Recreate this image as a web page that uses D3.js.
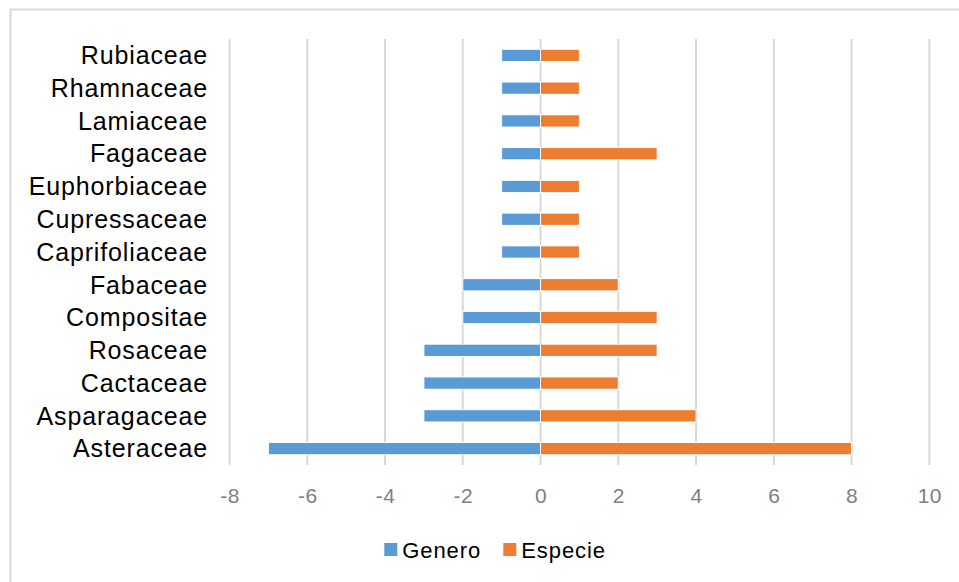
<!DOCTYPE html>
<html>
<head>
<meta charset="utf-8">
<script src="https://cdn.jsdelivr.net/npm/d3@7"></script>
<style>
  html, body { margin: 0; padding: 0; background: #fff; }
  svg { display: block; }
</style>
</head>
<body>
<svg id="chart" width="959" height="582"></svg>
<script>
// Families, listed top to bottom
const categories = [
  "Rubiaceae", "Rhamnaceae", "Lamiaceae", "Fagaceae", "Euphorbiaceae",
  "Cupressaceae", "Caprifoliaceae", "Fabaceae", "Compositae", "Rosaceae",
  "Cactaceae", "Asparagaceae", "Asteraceae"
];
// Genera are plotted to the left of zero, species to the right
const genero  = [-1, -1, -1, -1, -1, -1, -1, -2, -2, -3, -3, -3, -7];
const especie = [ 1,  1,  1,  3,  1,  1,  1,  2,  3,  3,  2,  4,  8];
const tickValues = [-8, -6, -4, -2, 0, 2, 4, 6, 8, 10];
const seriesNames = ["Genero", "Especie"];
const seriesColors = ["#5B9BD5", "#ED7D31"];

const svg = d3.select("#chart");
const font = "'Liberation Sans', Arial, sans-serif";

// outer frame (left and top edges visible)
svg.append("path")
  .attr("d", "M10.5,582 L10.5,9.5 L959,9.5")
  .attr("fill", "none")
  .attr("stroke", "#d9d9d9")
  .attr("stroke-width", 2);

const plot = { left: 229.5, right: 929.3, top: 39, bottom: 465 };

const x = d3.scaleLinear().domain([-8, 10]).range([plot.left, plot.right]);
const y = d3.scaleBand().domain(categories).range([plot.top, plot.bottom])
  .paddingInner(0.625).paddingOuter(0.3125);

// vertical gridlines
svg.append("g").selectAll("line")
  .data(tickValues)
  .join("line")
  .attr("x1", d => x(d)).attr("x2", d => x(d))
  .attr("y1", plot.top).attr("y2", plot.bottom)
  .attr("stroke", "#d9d9d9")
  .attr("stroke-width", 2);

// x-axis tick labels (plain hyphen for negatives)
const xAxis = d3.axisBottom(x).tickValues(tickValues)
  .tickFormat(d => String(d)).tickSize(0).tickPadding(0);
const gx = svg.append("g")
  .attr("transform", `translate(0,${plot.bottom + 23})`)
  .call(xAxis);
gx.select(".domain").remove();
gx.selectAll("text")
  .attr("font-family", font)
  .attr("font-size", 21)
  .attr("letter-spacing", "0.5px")
  .attr("fill", "#7f7f7f");

// category labels
const yAxis = d3.axisLeft(y).tickSize(0).tickPadding(0);
const gy = svg.append("g")
  .attr("transform", `translate(208,0)`)
  .call(yAxis);
gy.select(".domain").remove();
gy.selectAll("text")
  .attr("font-family", font)
  .attr("font-size", 25)
  .attr("letter-spacing", "0.85px")
  .attr("fill", "#000")
  .attr("dy", "0.35em");

// bars
const series = [genero, especie];
series.forEach((vals, si) => {
  svg.append("g").selectAll("rect")
    .data(vals.map((v, i) => ({ cat: categories[i], v })))
    .join("rect")
    .attr("x", d => x(Math.min(0, d.v)))
    .attr("width", d => Math.abs(x(d.v) - x(0)))
    .attr("y", d => y(d.cat))
    .attr("height", y.bandwidth())
    .attr("fill", seriesColors[si])
    .attr("stroke", "#fff")
    .attr("stroke-width", 1);
});

// legend
const legendItems = [
  { name: seriesNames[0], color: seriesColors[0], x: 384.3 },
  { name: seriesNames[1], color: seriesColors[1], x: 503.3 }
];
const lg = svg.append("g");
legendItems.forEach(it => {
  lg.append("rect")
    .attr("x", it.x).attr("y", 543)
    .attr("width", 13).attr("height", 13)
    .attr("fill", it.color);
  lg.append("text")
    .attr("x", it.x + 18).attr("y", 550)
    .attr("dy", "0.35em")
    .attr("font-family", font)
    .attr("font-size", 22)
    .attr("letter-spacing", "0.9px")
    .attr("fill", "#000")
    .text(it.name);
});
</script>
</body>
</html>
